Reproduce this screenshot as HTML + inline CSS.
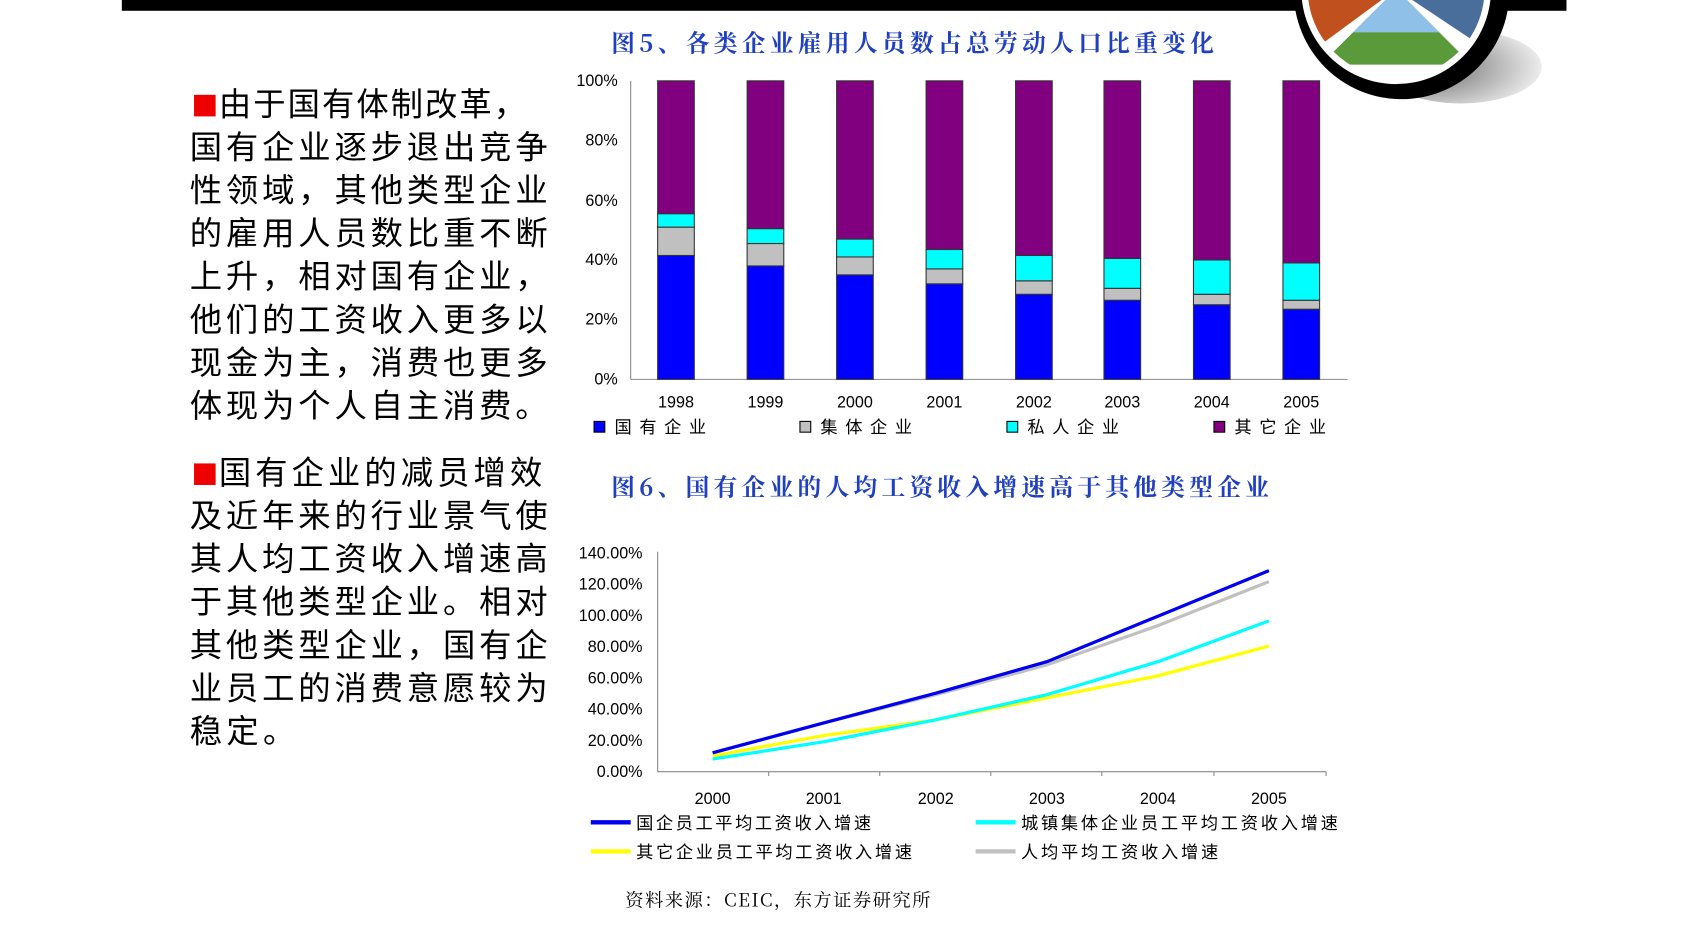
<!DOCTYPE html>
<html><head><meta charset="utf-8"><style>
html,body{margin:0;padding:0;background:#fff;}
svg{display:block;}
text{font-family:"Liberation Sans","Noto Sans CJK SC",sans-serif;}
.cn{font-family:"Noto Serif CJK SC","Noto Sans CJK SC",serif;}
</style></head><body>
<svg width="1684" height="929" viewBox="0 0 1562 862" preserveAspectRatio="none" xmlns="http://www.w3.org/2000/svg">
<defs>
<radialGradient id="sh" cx="0.3" cy="0.5" r="0.8"><stop offset="0" stop-color="#000"/><stop offset="1" stop-color="#fff"/></radialGradient>
<clipPath id="cc"><circle cx="1295" cy="-10" r="82"/></clipPath>
</defs>
<rect x="113" y="0" width="1340" height="10" fill="#000"/>
<ellipse cx="1355" cy="62" rx="75" ry="34" fill="url(#sh)" opacity="0.6"/>
<circle cx="1300" cy="-8" r="100" fill="#000"/>
<circle cx="1295" cy="-10" r="88" fill="#fff"/>
<g clip-path="url(#cc)">
<rect x="1200" y="-100" width="200" height="200" fill="#fff"/>
<polygon points="1200,-100 1295,-10 1200,60" fill="#c0501e"/>
<polygon points="1295,-10 1400,-100 1400,60" fill="#4a6e9c"/>
<polygon points="1225,60 1295,-10 1365,60" fill="#5a9a3a"/>
<polygon points="1245,40 1295,-10 1345,40 1335,30 1255,30" fill="#8fc0e8"/>
</g>
<text x="567" y="48" textLength="559" lengthAdjust="spacing" class="cn" font-size="22" fill="#2040c0" font-weight="bold">图5、各类企业雇用人员数占总劳动人口比重变化</text>
<g class="cn" font-size="30" fill="#000">
<rect x="180" y="88" width="20" height="20" fill="#e00"/>
<text x="203" y="107" textLength="285" lengthAdjust="spacing">由于国有体制改革，</text>
<text x="176" y="147" textLength="332" lengthAdjust="spacing">国有企业逐步退出竞争</text>
<text x="176" y="187" textLength="332" lengthAdjust="spacing">性领域，其他类型企业</text>
<text x="176" y="227" textLength="332" lengthAdjust="spacing">的雇用人员数比重不断</text>
<text x="176" y="267" textLength="332" lengthAdjust="spacing">上升，相对国有企业，</text>
<text x="176" y="307" textLength="332" lengthAdjust="spacing">他们的工资收入更多以</text>
<text x="176" y="347" textLength="332" lengthAdjust="spacing">现金为主，消费也更多</text>
<text x="176" y="387" textLength="332" lengthAdjust="spacing">体现为个人自主消费。</text>
<rect x="180" y="430" width="20" height="20" fill="#e00"/>
<text x="203" y="449" textLength="300" lengthAdjust="spacing">国有企业的减员增效</text>
<text x="176" y="489" textLength="332" lengthAdjust="spacing">及近年来的行业景气使</text>
<text x="176" y="529" textLength="332" lengthAdjust="spacing">其人均工资收入增速高</text>
<text x="176" y="569" textLength="332" lengthAdjust="spacing">于其他类型企业。相对</text>
<text x="176" y="609" textLength="332" lengthAdjust="spacing">其他类型企业，国有企</text>
<text x="176" y="649" textLength="332" lengthAdjust="spacing">业员工的消费意愿较为</text>
<text x="176" y="689" textLength="98" lengthAdjust="spacing">稳定。</text>
</g>
<g font-size="15" fill="#000" text-anchor="end">
<text x="573" y="80">100%</text><text x="573" y="135">80%</text><text x="573" y="191">60%</text><text x="573" y="246">40%</text><text x="573" y="301">20%</text><text x="573" y="357">0%</text>
</g>
<line x1="585" y1="75" x2="585" y2="352" stroke="#888"/>
<line x1="585" y1="352" x2="1250" y2="352" stroke="#888"/>
<g id="bars" stroke="#333" stroke-width="1"></g>
<g font-size="15" text-anchor="middle">
<text x="627" y="378">1998</text><text x="710" y="378">1999</text><text x="793" y="378">2000</text><text x="876" y="378">2001</text><text x="959" y="378">2002</text><text x="1041" y="378">2003</text><text x="1124" y="378">2004</text><text x="1207" y="378">2005</text>
</g>
<g class="cn" font-size="16">
<rect x="551" y="391" width="10" height="10" fill="#0000ff" stroke="#000"/><text x="570" y="402" textLength="85" lengthAdjust="spacing">国有企业</text>
<rect x="742" y="391" width="10" height="10" fill="#c0c0c0" stroke="#000"/><text x="761" y="402" textLength="85" lengthAdjust="spacing">集体企业</text>
<rect x="934" y="391" width="10" height="10" fill="#00ffff" stroke="#000"/><text x="953" y="402" textLength="85" lengthAdjust="spacing">私人企业</text>
<rect x="1126" y="391" width="10" height="10" fill="#800080" stroke="#000"/><text x="1145" y="402" textLength="85" lengthAdjust="spacing">其它企业</text>
</g>
<text x="567" y="460" textLength="610" lengthAdjust="spacing" class="cn" font-size="22" fill="#2040c0" font-weight="bold">图6、国有企业的人均工资收入增速高于其他类型企业</text>
<g font-size="15" text-anchor="end">
<text x="596" y="518">140.00%</text><text x="596" y="547">120.00%</text><text x="596" y="576">100.00%</text><text x="596" y="605">80.00%</text><text x="596" y="634">60.00%</text><text x="596" y="663">40.00%</text><text x="596" y="692">20.00%</text><text x="596" y="721">0.00%</text>
</g>
<line x1="610" y1="512" x2="610" y2="716" stroke="#888"/>
<line x1="610" y1="716" x2="1230" y2="716" stroke="#888"/>
<g stroke="#888"><line x1="713" y1="716" x2="713" y2="720"/><line x1="816" y1="716" x2="816" y2="720"/><line x1="919" y1="716" x2="919" y2="720"/><line x1="1022" y1="716" x2="1022" y2="720"/><line x1="1126" y1="716" x2="1126" y2="720"/><line x1="1230" y1="716" x2="1230" y2="720"/></g>
<g font-size="15" text-anchor="middle">
<text x="661" y="746">2000</text><text x="764" y="746">2001</text><text x="868" y="746">2002</text><text x="971" y="746">2003</text><text x="1074" y="746">2004</text><text x="1177" y="746">2005</text>
</g>
<g id="lines" fill="none" stroke-width="3"></g>
<g class="cn" font-size="16">
<line x1="548" y1="763" x2="585" y2="763" stroke="#0000ee" stroke-width="4"/><text x="590" y="769" textLength="218" lengthAdjust="spacing">国企员工平均工资收入增速</text>
<line x1="905" y1="763" x2="942" y2="763" stroke="#00ffff" stroke-width="4"/><text x="947" y="769" textLength="294" lengthAdjust="spacing">城镇集体企业员工平均工资收入增速</text>
<line x1="548" y1="790" x2="585" y2="790" stroke="#ffff00" stroke-width="4"/><text x="590" y="796" textLength="256" lengthAdjust="spacing">其它企业员工平均工资收入增速</text>
<line x1="905" y1="790" x2="942" y2="790" stroke="#c0c0c0" stroke-width="4"/><text x="947" y="796" textLength="183" lengthAdjust="spacing">人均平均工资收入增速</text>
</g>
<text x="580" y="841" textLength="283" lengthAdjust="spacing" class="cn" font-size="17">资料来源：CEIC，东方证券研究所</text>
<script>
var ns="http://www.w3.org/2000/svg";
var xs=[627,710,793,876,959,1041,1124,1207];
var d=[[41.5,51,55.5],[38,45.5,50.5],[35,41,47],[32,37,43.5],[28.5,33,41.5],[26.5,30.5,40.5],[25,28.5,40],[23.5,26.5,39]];
var cols=["#0000ff","#c0c0c0","#00ffff","#800080"];
var g=document.getElementById("bars");
function Y(p){return 352-p*2.77;}
d.forEach(function(r,i){var t=[0].concat(r).concat([100]);for(var k=0;k<4;k++){var e=document.createElementNS(ns,"rect");e.setAttribute("x",xs[i]-17);e.setAttribute("width",34);e.setAttribute("y",Y(t[k+1]));e.setAttribute("height",Y(t[k])-Y(t[k+1]));e.setAttribute("fill",cols[k]);g.appendChild(e);}});
var lx=[661,764,868,971,1074,1177];
var L=[["#c0c0c0",[12,31,49,68,93,121]],["#ffff00",[10,23,33,47,61,80]],["#00ffff",[8,19,33,49,70,96]],["#0000ee",[12,31,50,70,99,128]]];
var lg=document.getElementById("lines");
L.forEach(function(s){var p=document.createElementNS(ns,"polyline");p.setAttribute("points",s[1].map(function(v,i){return lx[i]+","+(716-v*1.457);}).join(" "));p.setAttribute("stroke",s[0]);lg.appendChild(p);});
</script>
</svg>
</body></html>
